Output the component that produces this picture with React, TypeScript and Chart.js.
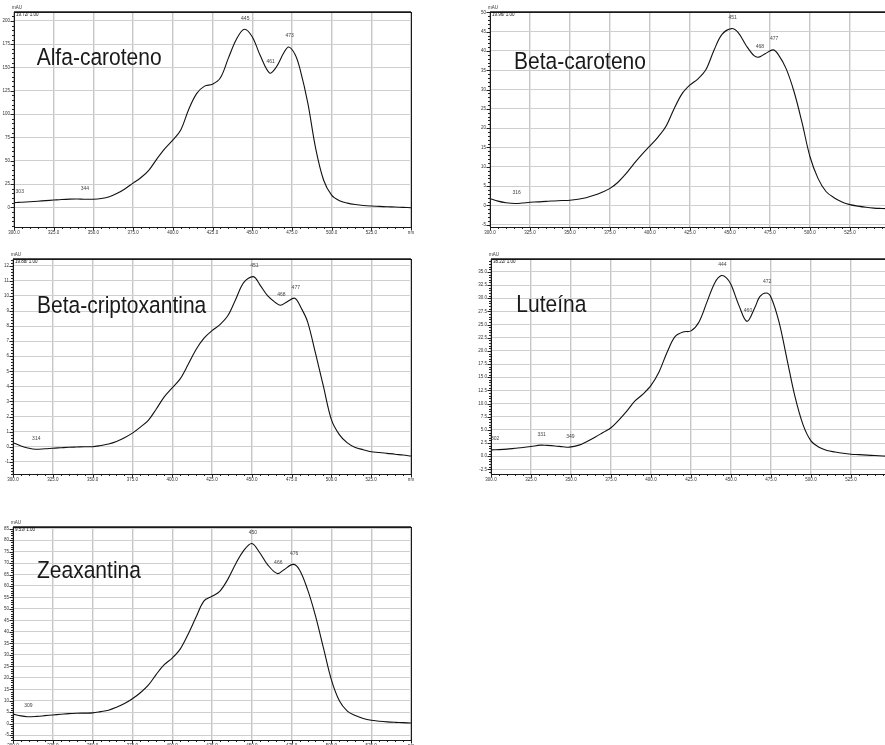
import React, { useEffect, useRef } from "react";
import { Chart, registerables } from "chart.js";

Chart.register(...registerables);

// ---------- DATA ----------
const alfaNm = [300, 303, 305, 310, 315, 320, 325, 330, 335, 340, 344, 350, 355, 360, 365, 370, 375, 380, 385, 390, 395, 400, 405, 410, 415, 420, 425, 430, 435, 440, 445, 450, 455, 461, 465, 470, 473, 477, 480, 485, 490, 495, 500, 505, 510, 515, 520, 525, 530, 535, 540, 545, 550];
const alfaAbs = [5, 5.3, 5.5, 6, 6.6, 7.2, 7.8, 8.4, 8.8, 8.9, 8.7, 8.7, 9.5, 11.4, 15, 20, 26, 32, 40, 52, 63, 72, 83, 105, 122, 130, 132, 139, 160, 180, 191, 183, 163, 144, 150, 166, 172, 164, 149, 112, 63, 29, 13, 7, 4.5, 3, 2, 1.4, 1, 0.6, 0.3, 0, -0.4];
const alfaPeaks = [303, 344, 445, 461, 473];

const betaNm = [300, 305, 310, 316, 320, 325, 330, 335, 340, 345, 350, 355, 360, 365, 370, 375, 380, 385, 390, 395, 400, 405, 410, 415, 420, 425, 430, 435, 440, 445, 451, 455, 460, 465, 468, 472, 477, 480, 485, 490, 495, 500, 505, 510, 515, 520, 525, 530, 535, 540, 545, 550];
const betaAbs = [1.8, 1.1, 0.7, 0.5, 0.6, 0.8, 0.9, 1.05, 1.15, 1.25, 1.35, 1.6, 2.0, 2.6, 3.4, 4.4, 6.0, 8.2, 10.8, 13.2, 15.4, 17.7, 20.5, 25, 28.9, 31.2, 32.8, 35.2, 40.2, 44.3, 45.8, 44.8, 41.5, 38.8, 38.4, 39.3, 40.3, 39.2, 35.5, 29.5, 21.5, 12.6, 7, 3.6, 2.0, 0.9, 0.2, -0.2, -0.5, -0.7, -0.8, -0.9];
const betaPeaks = [316, 451, 468, 477];

const criptoNm = [300, 305, 310, 314, 320, 325, 330, 335, 340, 345, 350, 355, 360, 365, 370, 375, 380, 385, 390, 395, 400, 405, 410, 415, 420, 425, 430, 435, 440, 445, 451, 455, 460, 465, 468, 472, 477, 481, 485, 490, 495, 500, 505, 510, 515, 520, 525, 530, 535, 540, 545, 550];
const criptoAbs = [0.27, 0.05, -0.1, -0.17, -0.14, -0.1, -0.07, -0.04, -0.02, 0, 0, 0.08, 0.18, 0.35, 0.6, 0.9, 1.3, 1.75, 2.5, 3.3, 3.9, 4.5, 5.45, 6.45, 7.2, 7.7, 8.1, 8.7, 9.8, 10.9, 11.28, 10.75, 10.0, 9.55, 9.38, 9.6, 9.85, 9.2, 8.3, 6.2, 4.0, 1.8, 0.8, 0.25, -0.05, -0.2, -0.33, -0.38, -0.44, -0.5, -0.55, -0.62];
const criptoPeaks = [314, 451, 468, 477];

const luteinaNm = [300, 302, 305, 310, 315, 320, 325, 331, 335, 340, 345, 349, 355, 360, 365, 370, 375, 380, 385, 390, 395, 400, 405, 410, 415, 420, 425, 430, 435, 440, 444, 447, 450, 455, 460, 465, 468, 472, 475, 480, 485, 490, 495, 500, 505, 510, 515, 520, 525, 530, 535, 540, 545, 550];
const luteinaAbs = [1.2, 1.22, 1.25, 1.35, 1.5, 1.65, 1.84, 2.1, 2.05, 1.95, 1.8, 1.72, 2.1, 2.8, 3.6, 4.5, 5.4, 6.9, 8.6, 10.5, 11.8, 13.45, 16, 19.7, 22.7, 23.6, 23.8, 25.5, 29.3, 33, 34.3, 33.9, 32.6, 28.6, 25.6, 28.3, 30.3, 31.0, 30.2, 25.5, 18.4, 11.3, 6, 2.9, 1.7, 1.1, 0.8, 0.55, 0.38, 0.3, 0.2, 0.12, 0.05, 0];
const luteinaPeaks = [302, 331, 349, 444, 460, 472];

const zeaNm = [300, 305, 309, 315, 320, 325, 330, 335, 340, 345, 350, 355, 360, 365, 370, 375, 380, 385, 390, 395, 400, 405, 410, 415, 420, 425, 430, 435, 440, 445, 450, 455, 460, 466, 470, 476, 480, 485, 490, 495, 500, 505, 510, 515, 520, 525, 530, 535, 540, 545, 550];
const zeaAbs = [4.2, 3.4, 3.05, 3.2, 3.5, 3.8, 4.1, 4.4, 4.55, 4.62, 4.7, 5.25, 5.9, 7.2, 8.8, 10.9, 13.5, 16.8, 21.5, 25.7, 28.6, 32.5, 39, 46.5, 53.5, 55.5, 57.8, 63, 69.8, 75.5, 78.5, 74.5, 69.2, 65.4, 67, 69.4, 67, 58.5, 47, 33, 19.1, 10, 5.5, 3.6, 2.3, 1.5, 1.1, 0.8, 0.6, 0.45, 0.3];
const zeaPeaks = [309, 450, 466, 476];

const xTickValues = [300, 325, 350, 375, 400, 425, 450, 475, 500, 525, 550];
const xTickLabels = ["300.0", "325.0", "350.0", "375.0", "400.0", "425.0", "450.0", "475.0", "500.0", "525.0", "nm"];

// ---------- LAYOUT ----------
type Panel = {
  title: string; header: string;
  nm: number[]; abs: number[]; peaks: number[];
  yMin: number; yMax: number; yStep: number; yMinor: number; decimals: number;
  plotLeft: number; plotTop: number; plotW: number; plotH: number;
  titleDx: number; titleDy: number;
};

const panels: Panel[] = [
  { title: "Alfa-caroteno", header: "19.72/ 1.00", nm: alfaNm, abs: alfaAbs, peaks: alfaPeaks,
    yMin: -21.1, yMax: 209.5, yStep: 25, yMinor: 5, decimals: 0,
    plotLeft: 14, plotTop: 12, plotW: 397, plotH: 215, titleDx: 22.7, titleDy: 53 },
  { title: "Beta-caroteno", header: "19.96/ 1.00", nm: betaNm, abs: betaAbs, peaks: betaPeaks,
    yMin: -5.6, yMax: 50.1, yStep: 5, yMinor: 1, decimals: 0,
    plotLeft: 490, plotTop: 12, plotW: 400, plotH: 215, titleDx: 24, titleDy: 57.4 },
  { title: "Beta-criptoxantina", header: "19.88/ 1.00", nm: criptoNm, abs: criptoAbs, peaks: criptoPeaks,
    yMin: -1.81, yMax: 12.45, yStep: 1, yMinor: 0.2, decimals: 0,
    plotLeft: 13, plotTop: 259, plotW: 398, plotH: 215, titleDx: 24, titleDy: 53.7 },
  { title: "Luteína", header: "38.22/ 1.00", nm: luteinaNm, abs: luteinaAbs, peaks: luteinaPeaks,
    yMin: -3.38, yMax: 37.45, yStep: 2.5, yMinor: 0.5, decimals: 1,
    plotLeft: 491, plotTop: 259, plotW: 400, plotH: 215, titleDx: 25.3, titleDy: 52.7 },
  { title: "Zeaxantina", header: "9.53/ 1.00", nm: zeaNm, abs: zeaAbs, peaks: zeaPeaks,
    yMin: -7.1, yMax: 85.7, yStep: 5, yMinor: 1, decimals: 0,
    plotLeft: 13, plotTop: 527, plotW: 398, plotH: 213, titleDx: 24, titleDy: 51 },
];

const L = 16, T = 16, R = 10, B = 14;
const FONT = '"Liberation Sans", Arial, sans-serif';

function SpectrumChart({ p }: { p: Panel }) {
  const ref = useRef<HTMLCanvasElement>(null);
  const w = L + p.plotW + R;
  const h = T + p.plotH + B;

  useEffect(() => {
    const canvas = ref.current!;
    const decor = {
      id: "decor",
      afterDraw(chart: any) {
        const { ctx, chartArea: a } = chart;
        const xs = chart.scales.x;
        const ys = chart.scales.y;
        ctx.save();
        // minor / major tick marks
        ctx.strokeStyle = "#222";
        ctx.lineWidth = 1;
        ctx.beginPath();
        const k0 = Math.ceil(p.yMin / p.yMinor - 1e-6);
        for (let k = k0; k * p.yMinor <= p.yMax + 1e-6; k++) {
          const v = k * p.yMinor;
          const py = Math.round(ys.getPixelForValue(v)) + 0.5;
          const r = v / p.yStep;
          const major = Math.abs(r - Math.round(r)) < 1e-6;
          const len = major ? 3.5 : 2;
          ctx.moveTo(a.left - len, py);
          ctx.lineTo(a.left, py);
        }
        for (let v = 300; v <= 550; v += 5) {
          const px = Math.round(xs.getPixelForValue(v)) + 0.5;
          const major = v % 25 === 0;
          const len = major ? 3.5 : 2;
          ctx.moveTo(px, a.bottom);
          ctx.lineTo(px, a.bottom + len);
        }
        ctx.stroke();
        // frame
        ctx.strokeStyle = "#1a1a1a";
        ctx.lineWidth = 1;
        ctx.strokeRect(Math.round(a.left) + 0.5, Math.round(a.top) + 0.5, Math.round(a.right - a.left), Math.round(a.bottom - a.top));
        ctx.lineWidth = 1.6;
        ctx.beginPath();
        ctx.moveTo(a.left, a.top);
        ctx.lineTo(a.right, a.top);
        ctx.stroke();
        // small texts
        ctx.fillStyle = "#333";
        ctx.font = `4.5px ${FONT}`;
        ctx.textAlign = "left";
        ctx.textBaseline = "alphabetic";
        ctx.fillText("mAU", a.left - 2, a.top - 3);
        ctx.fillStyle = "#111";
        ctx.textBaseline = "middle";
        ctx.fillText(p.header, a.left + 2, a.top + 3);
        // peak labels
        const meta = chart.getDatasetMeta(0);
        ctx.fillStyle = "#444";
        ctx.font = `5px ${FONT}`;
        ctx.textAlign = "center";
        ctx.textBaseline = "middle";
        p.peaks.forEach((pk) => {
          const i = p.nm.indexOf(pk);
          if (i < 0) return;
          const el = meta.data[i];
          ctx.fillText(String(pk), el.x + 1, el.y - 11);
        });
        // title
        ctx.fillStyle = "#1a1a1a";
        ctx.font = `21px ${FONT}`;
        ctx.textAlign = "left";
        ctx.textBaseline = "alphabetic";
        ctx.translate(a.left + p.titleDx, a.top + p.titleDy);
        ctx.scale(1, 1.1);
        ctx.fillText(p.title, 0, 0);
        ctx.restore();
      },
    };

    const chart = new Chart(canvas, {
      type: "line",
      data: {
        datasets: [
          {
            data: p.nm.map((x, i) => ({ x, y: p.abs[i] })),
            borderColor: "#111",
            borderWidth: 1.1,
            pointRadius: 0,
            tension: 0.35,
            fill: false,
          },
        ],
      },
      options: {
        animation: false,
        responsive: false,
        devicePixelRatio: 1,
        layout: { padding: { top: T, right: R, left: 0, bottom: 0 } },
        plugins: { legend: { display: false }, tooltip: { enabled: false } },
        scales: {
          x: {
            type: "linear",
            min: 300,
            max: 550,
            afterFit: (s: any) => { s.height = B; },
            border: { display: false },
            grid: { color: "#c6c6c6", lineWidth: 1.4, drawTicks: false },
            ticks: {
              stepSize: 25,
              includeBounds: false,
              autoSkip: false,
              maxRotation: 0,
              padding: 3,
              color: "#333",
              font: { size: 4.5, family: FONT },
              callback: (v: any) => {
                const idx = xTickValues.indexOf(Math.round(Number(v)));
                return idx >= 0 ? xTickLabels[idx] : "";
              },
            },
          },
          y: {
            type: "linear",
            min: p.yMin,
            max: p.yMax,
            afterFit: (s: any) => { s.width = L; },
            border: { display: false },
            grid: { color: "#cfcfcf", lineWidth: 1, drawTicks: false },
            ticks: {
              stepSize: p.yStep,
              includeBounds: false,
              autoSkip: false,
              padding: 4,
              color: "#333",
              font: { size: 4.5, family: FONT },
              callback: (v: any) => Number(v).toFixed(p.decimals),
            },
          },
        },
      },
      plugins: [decor],
    } as any);
    return () => chart.destroy();
  }, [p]);

  return (
    <canvas
      ref={ref}
      width={w}
      height={h}
      style={{ position: "absolute", left: p.plotLeft - L, top: p.plotTop - T, width: w, height: h }}
    />
  );
}

export default function App() {
  return (
    <div style={{ position: "fixed", left: 0, top: 0, width: 885, height: 745, overflow: "hidden", background: "#fff" }}>
      {panels.map((p) => (
        <SpectrumChart key={p.title} p={p} />
      ))}
    </div>
  );
}
